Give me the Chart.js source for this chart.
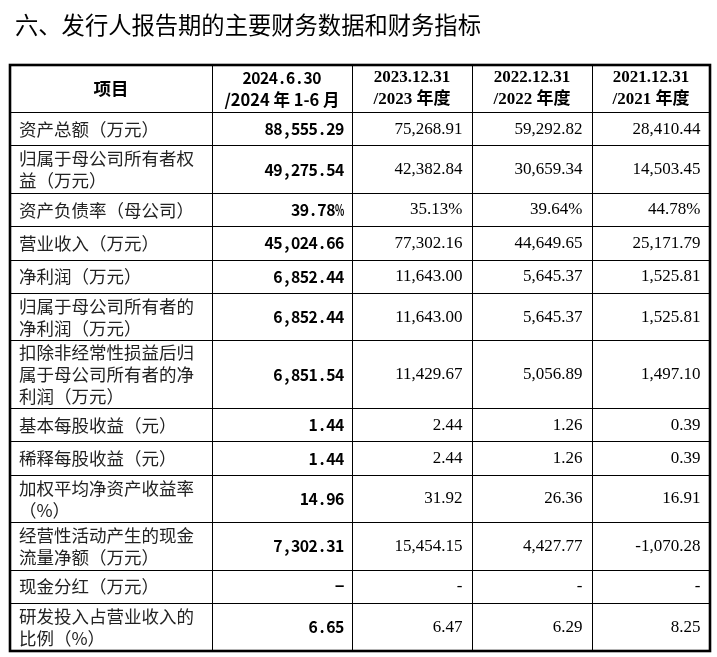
<!DOCTYPE html>
<html>
<head>
<meta charset="utf-8">
<script src="https://cdn.jsdelivr.net/npm/chart.js@4.4.0/dist/chart.umd.min.js"></script>
<style>
  body { margin: 0; background: #fff; }
  #wrap { width: 717px; height: 657px; }
</style>
</head>
<body>
<div id="wrap"><canvas id="tableChart" width="717" height="657"></canvas></div>
<script>
// Table data
const title = '六、发行人报告期的主要财务数据和财务指标';
const headers = ['项目', '2024.6.30\n/2024 年 1-6 月', '2023.12.31\n/2023 年度', '2022.12.31\n/2022 年度', '2021.12.31\n/2021 年度'];
const items = [
  '资产总额（万元）',
  '归属于母公司所有者权益（万元）',
  '资产负债率（母公司）',
  '营业收入（万元）',
  '净利润（万元）',
  '归属于母公司所有者的净利润（万元）',
  '扣除非经常性损益后归属于母公司所有者的净利润（万元）',
  '基本每股收益（元）',
  '稀释每股收益（元）',
  '加权平均净资产收益率（%）',
  '经营性活动产生的现金流量净额（万元）',
  '现金分红（万元）',
  '研发投入占营业收入的比例（%）'
];
const v2024 = ['88,555.29', '49,275.54', '39.78%', '45,024.66', '6,852.44', '6,852.44', '6,851.54', '1.44', '1.44', '14.96', '7,302.31', '-', '6.65'];
const v2023 = ['75,268.91', '42,382.84', '35.13%', '77,302.16', '11,643.00', '11,643.00', '11,429.67', '2.44', '2.44', '31.92', '15,454.15', '-', '6.47'];
const v2022 = ['59,292.82', '30,659.34', '39.64%', '44,649.65', '5,645.37', '5,645.37', '5,056.89', '1.26', '1.26', '26.36', '4,427.77', '-', '6.29'];
const v2021 = ['28,410.44', '14,503.45', '44.78%', '25,171.79', '1,525.81', '1,525.81', '1,497.10', '0.39', '0.39', '16.91', '-1,070.28', '-', '8.25'];

// Layout
const colWidths = [202, 140, 120, 120, 118];
const labelFont = '17.5px "Noto Sans CJK SC"';
const boldMono = 'bold 16px "Noto Sans CJK SC"';
const serifFont = '17px "Liberation Serif", "Noto Sans CJK SC"';
const serifBold = 'bold 17px "Liberation Serif", "Noto Sans CJK SC"';
const lineGap = 22;

// wrap label text to the first column width
const mctx = document.createElement('canvas').getContext('2d');
function wrapText(text, font, maxW) {
  mctx.font = font;
  const lines = [];
  let cur = '';
  for (const ch of text) {
    if (cur && mctx.measureText(cur + ch).width > maxW) {
      lines.push(cur);
      cur = ch;
    } else {
      cur += ch;
    }
  }
  if (cur) lines.push(cur);
  return lines;
}

const itemLines = items.map(t => wrapText(t, labelFont, 182));
const rowLineCounts = [2].concat(itemLines.map(l => l.length));
const rowHeight = n => Math.max(33.4, 20 * n + 7.5);

const colEdges = [0];
colWidths.forEach(w => colEdges.push(colEdges[colEdges.length - 1] + w));
const rowEdges = [0];
rowLineCounts.forEach(n => rowEdges.push(rowEdges[rowEdges.length - 1] + rowHeight(n)));

// fixed pitch text, like the monospaced bold digits of the source
function drawMono(ctx, text, rightX, y, pitch) {
  const chars = Array.from(text);
  ctx.textAlign = 'center';
  chars.forEach((ch, i) => {
    const cx = rightX - (chars.length - 1 - i) * pitch - pitch / 2;
    if (ch === '-' && chars.length === 1) {
      // lone dash is a wide, heavy bar in the source font
      ctx.save();
      ctx.translate(cx, y - 1.5);
      ctx.scale(1.9, 1);
      ctx.fillText(ch, 0, 0);
      ctx.restore();
    } else {
      ctx.fillText(ch, cx, y, pitch + 0.5);
    }
  });
}

const innerLine = (count) => (c) => (c.index === 0 || c.index === count - 1) ? 'rgba(0,0,0,0)' : '#000';

const tablePlugin = {
  id: 'tablePlugin',
  afterDraw(chart) {
    const ctx = chart.ctx;
    const xs = chart.scales.x, ys = chart.scales.y;
    const area = chart.chartArea;
    ctx.save();

    // title
    ctx.fillStyle = '#000';
    ctx.font = '23.3px "Noto Sans CJK SC"';
    ctx.textAlign = 'left';
    ctx.textBaseline = 'middle';
    ctx.fillText(title, 15, 25);

    // outer border
    ctx.strokeStyle = '#000';
    ctx.lineWidth = 2.6;
    ctx.strokeRect(area.left, area.top, area.right - area.left, area.bottom - area.top);

    const colX = colEdges.map(v => xs.getPixelForValue(v));
    const rowY = rowEdges.map(v => ys.getPixelForValue(v));

    // header
    const hMid = (rowY[0] + rowY[1]) / 2;
    headers.forEach((h, c) => {
      const cx = (colX[c] + colX[c + 1]) / 2;
      const parts = h.split('\n');
      parts.forEach((p, i) => {
        const y = hMid + (i - (parts.length - 1) / 2) * lineGap;
        if (c === 0) {
          ctx.font = 'bold 17.5px "Noto Sans CJK SC"';
          ctx.textAlign = 'center';
          ctx.fillText(p, cx, y);
        } else if (c === 1 && i === 0) {
          ctx.font = boldMono;
          const pitch = 8.7;
          drawMono(ctx, p, cx + Array.from(p).length * pitch / 2, y, pitch);
        } else if (c === 1) {
          ctx.font = 'bold 16.5px "Noto Sans CJK SC"';
          ctx.textAlign = 'center';
          ctx.fillText(p, cx, y);
        } else {
          ctx.font = serifBold;
          ctx.textAlign = 'center';
          ctx.fillText(p, cx, y);
        }
      });
    });

    // body rows
    const others = [v2023, v2022, v2021];
    items.forEach((_, r) => {
      const top = rowY[r + 1], bottom = rowY[r + 2];
      const mid = (top + bottom) / 2;
      const lines = itemLines[r];

      ctx.fillStyle = '#222';
      ctx.font = labelFont;
      ctx.textAlign = 'left';
      lines.forEach((l, i) => {
        ctx.fillText(l, colX[0] + 9, mid + (i - (lines.length - 1) / 2) * lineGap);
      });

      ctx.fillStyle = '#000';
      ctx.font = boldMono;
      drawMono(ctx, v2024[r], colX[2] - 8, mid, 8.8);

      ctx.font = serifFont;
      ctx.textAlign = 'right';
      others.forEach((arr, k) => {
        ctx.fillText(arr[r], colX[k + 3] - 9.5, mid);
      });
    });

    ctx.restore();
  }
};

new Chart(document.getElementById('tableChart'), {
  type: 'scatter',
  data: { datasets: [] },
  options: {
    responsive: false,
    animation: false,
    layout: { padding: { left: 10, right: 7, top: 65, bottom: 6 } },
    plugins: {
      legend: { display: false },
      tooltip: { enabled: false },
      title: { display: false }
    },
    scales: {
      x: {
        type: 'linear',
        min: 0,
        max: colEdges[colEdges.length - 1],
        afterBuildTicks: scale => { scale.ticks = colEdges.map(v => ({ value: v })); },
        ticks: { display: false, autoSkip: false },
        border: { display: false },
        grid: { drawTicks: false, color: innerLine(colEdges.length), lineWidth: 1 }
      },
      y: {
        type: 'linear',
        reverse: true,
        min: 0,
        max: rowEdges[rowEdges.length - 1],
        afterBuildTicks: scale => { scale.ticks = rowEdges.map(v => ({ value: v })); },
        ticks: { display: false, autoSkip: false },
        border: { display: false },
        grid: { drawTicks: false, color: innerLine(rowEdges.length), lineWidth: 1 }
      }
    }
  },
  plugins: [tablePlugin]
});
</script>
</body>
</html>
